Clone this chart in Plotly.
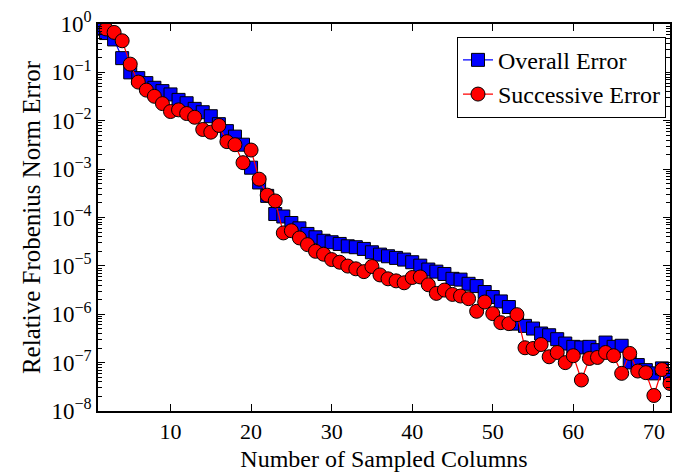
import plotly.graph_objects as go

# Number of sampled columns
cols_overall = list(range(1, 73))
cols_successive = list(range(2, 73))

overall_error = [
    0.80, 0.65, 0.48, 0.197, 0.100, 0.076, 0.060, 0.048, 0.041, 0.035,
    0.027, 0.023, 0.0176, 0.015, 0.0124, 0.0085, 0.0061, 0.0047, 0.0032, 0.00107,
    0.00053, 0.00028, 1.18e-4, 1.05e-4, 7.7e-5, 5.97e-5, 4.57e-5, 3.9e-5, 3.3e-5, 3.08e-5,
    2.84e-5, 2.54e-5, 2.43e-5, 2.24e-5, 1.91e-5, 1.71e-5, 1.58e-5, 1.46e-5, 1.35e-5, 1.19e-5,
    1.01e-5, 8.4e-6, 7.6e-6, 6.8e-6, 5.4e-6, 5.2e-6, 4.26e-6, 3.82e-6, 2.88e-6, 2.27e-6,
    1.84e-6, 1.41e-6, 6.4e-7, 5.75e-7, 5.06e-7, 4.0e-7, 3.68e-7, 3.05e-7, 2.48e-7, 2.12e-7,
    2.06e-7, 2.12e-7, 1.81e-7, 2.6e-7, 2.12e-7, 2.23e-7, 1.01e-7, 8.9e-8, 7.0e-8, 6.0e-8,
    7.6e-8, 5.4e-8,
]

successive_error = [
    0.79, 0.67, 0.45, 0.148, 0.063, 0.043, 0.032, 0.0226, 0.0155,
    0.0168, 0.0141, 0.0118, 0.0066, 0.0058, 0.0080, 0.0037, 0.0032, 0.00136, 0.00248,
    0.00062, 0.00029, 0.00022, 4.8e-5, 5.33e-5, 3.78e-5, 2.75e-5, 2.0e-5, 1.74e-5, 1.35e-5,
    1.19e-5, 9.9e-6, 8.7e-6, 7.6e-6, 9.7e-6, 6.5e-6, 5.4e-6, 4.9e-6, 4.47e-6, 5.75e-6,
    5.9e-6, 4.07e-6, 2.7e-6, 3.16e-6, 2.57e-6, 2.38e-6, 2.1e-6, 1.15e-6, 1.79e-6, 1.03e-6,
    6.7e-7, 6.4e-7, 9.8e-7, 2.03e-7, 1.96e-7, 2.37e-7, 1.32e-7, 1.62e-7, 1.0e-7, 1.39e-7,
    4.37e-8, 1.22e-7, 1.28e-7, 1.62e-7, 1.39e-7, 6.0e-8, 1.55e-7, 6.7e-8, 6.2e-8, 2.09e-8,
    7.2e-8, 3.7e-8,
]

y_tick_vals = [1e0, 1e-1, 1e-2, 1e-3, 1e-4, 1e-5, 1e-6, 1e-7, 1e-8]
y_tick_text = ["10<sup>0</sup>", "10<sup>−1</sup>", "10<sup>−2</sup>", "10<sup>−3</sup>",
               "10<sup>−4</sup>", "10<sup>−5</sup>", "10<sup>−6</sup>", "10<sup>−7</sup>",
               "10<sup>−8</sup>"]

FONT = "Liberation Serif"

fig = go.Figure()
fig.add_trace(go.Scatter(
    x=cols_overall, y=overall_error, name="Overall Error",
    mode="lines+markers",
    line=dict(color="#0000ff", width=1.2),
    marker=dict(symbol="square", size=13, color="#0000ff",
                line=dict(color="black", width=1)),
))
fig.add_trace(go.Scatter(
    x=cols_successive, y=successive_error, name="Successive Error",
    mode="lines+markers",
    line=dict(color="#ff0000", width=1.2),
    marker=dict(symbol="circle", size=14, color="#ff0000",
                line=dict(color="black", width=1)),
))

fig.update_layout(
    width=673, height=472,
    margin=dict(l=98, r=1, t=24, b=59),
    paper_bgcolor="white", plot_bgcolor="white",
    font=dict(family=FONT, color="black", size=22),
    showlegend=True,
    legend=dict(
        x=0.993, y=0.967, xanchor="right", yanchor="top",
        bordercolor="black", borderwidth=1, bgcolor="white",
        font=dict(family=FONT, size=24),
        tracegroupgap=0,
    ),
)
fig.update_xaxes(
    range=[1, 72], tick0=0, dtick=10,
    showline=True, linecolor="black", linewidth=1.5, mirror="ticks",
    ticks="inside", ticklen=7, tickwidth=1, tickcolor="black",
    showgrid=False, zeroline=False,
    tickfont=dict(family=FONT, size=22),
    title=dict(text="Number of Sampled Columns", font=dict(family=FONT, size=24), standoff=10),
)
fig.update_yaxes(
    type="log", range=[-8, 0],
    tickmode="array", tickvals=y_tick_vals, ticktext=y_tick_text,
    showline=True, linecolor="black", linewidth=1.5, mirror="ticks",
    ticks="inside", ticklen=7, tickwidth=1, tickcolor="black",
    minor=dict(ticks="inside", ticklen=4, tickcolor="black", dtick="D1", showgrid=False),
    showgrid=False, zeroline=False,
    tickfont=dict(family=FONT, size=23),
    title=dict(text="Relative Frobenius Norm Error", font=dict(family=FONT, size=25), standoff=4),
)

fig.write_html("out.html")
